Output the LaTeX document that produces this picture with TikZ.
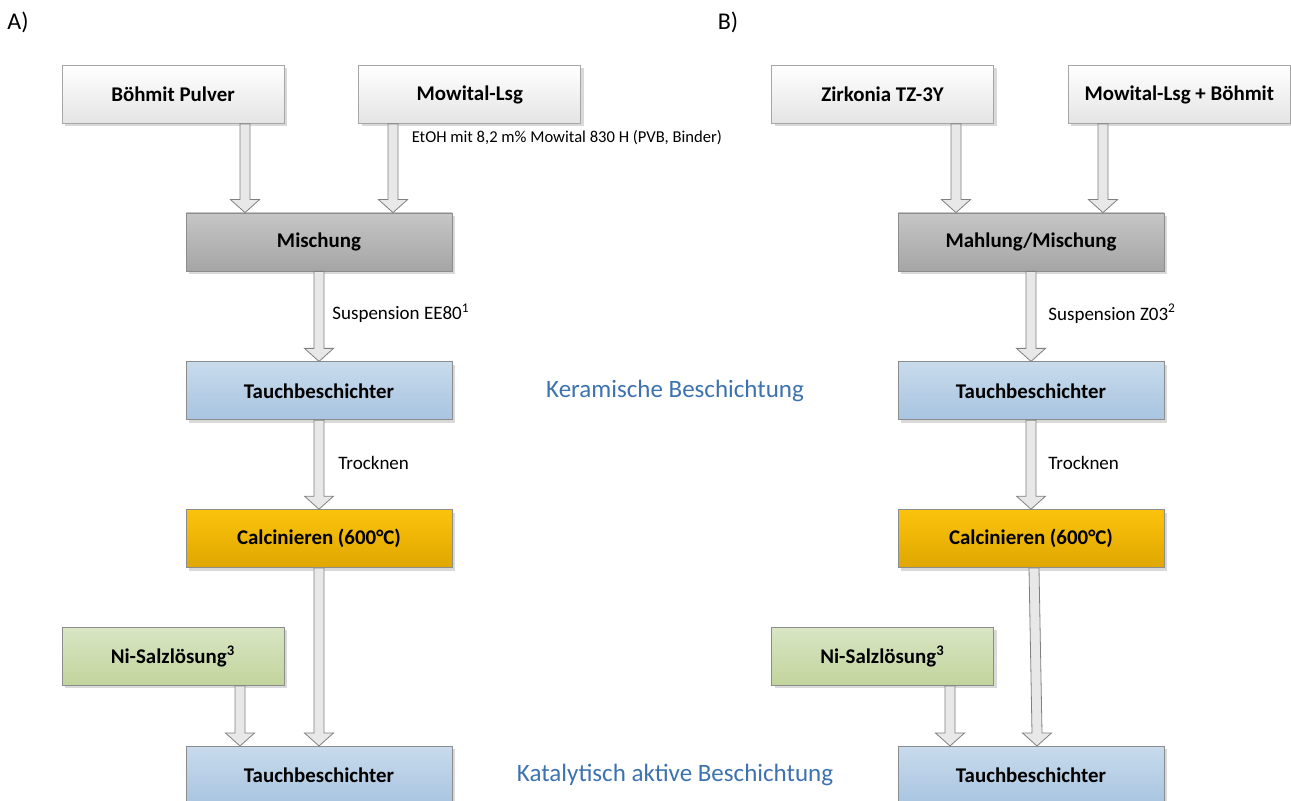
\documentclass[tikz,border=0pt]{standalone}
\usepackage{fontspec}
\setmainfont{Carlito}
\usetikzlibrary{positioning,calc,shadows}

\definecolor{feedtop}{HTML}{FFFFFF}
\definecolor{feedbot}{HTML}{E4E4E4}
\definecolor{mixtop}{HTML}{C6C6C6}
\definecolor{mixbot}{HTML}{A5A5A5}
\definecolor{diptop}{HTML}{C8DBEC}
\definecolor{dipbot}{HTML}{A8C4E0}
\definecolor{calctop}{HTML}{FCC30C}
\definecolor{calcbot}{HTML}{DFA700}
\definecolor{nitop}{HTML}{D9E5C4}
\definecolor{nibot}{HTML}{C2D49C}
\definecolor{secblue}{HTML}{3D72B0}

\begin{document}
\begin{tikzpicture}[x=0.5pt, y=-0.5pt,
    procbox/.style={rectangle, draw=black!45, line width=0.4pt, minimum height=29pt,
      font=\fontsize{10.45}{12}\selectfont\bfseries,
      drop shadow={shadow xshift=1.5pt, shadow yshift=-1.5pt, fill=black!15, opacity=1}},
    feed/.style={procbox, minimum width=111pt, top color=feedtop, bottom color=feedbot, draw=black!35},
    mixproc/.style={procbox, minimum width=133pt, top color=mixtop, bottom color=mixbot},
    dipproc/.style={procbox, minimum width=133pt, top color=diptop, bottom color=dipbot},
    calcproc/.style={procbox, minimum width=133pt, top color=calctop, bottom color=calcbot},
    niproc/.style={procbox, minimum width=111pt, top color=nitop, bottom color=nibot},
    steplabel/.style={font=\fontsize{9.5}{11}\selectfont, inner sep=0pt, anchor=west},
    notelabel/.style={font=\fontsize{8.3}{10}\selectfont, inner sep=0pt, anchor=west},
    section/.style={font=\fontsize{12.5}{14}\selectfont, text=secblue, inner sep=0pt},
    paneltag/.style={font=\fontsize{12}{14}\selectfont, inner sep=0pt},
    fatarrow/.style={draw=black!50, fill=black!9, line width=0.4pt,
      to path={let \p1=(\tikztostart), \p2=(\tikztotarget) in
        (\x1-2.5pt,\y1) -- (\x2-2.5pt,\y2+6.5pt) -- (\x2-7.25pt,\y2+6.5pt) -- (\x2,\y2)
        -- (\x2+7.25pt,\y2+6.5pt) -- (\x2+2.5pt,\y2+6.5pt) -- (\x1+2.5pt,\y1) -- cycle}}
    ]
    \useasboundingbox (0,0) rectangle (1291,801);

    % A) Aluminiumoxid
    \node[paneltag] (tagA) at (18,22) {A)};
    \node[feed] (boehmit) at (173,94.5) {Böhmit Pulver};
    \node[feed, right=37pt of boehmit] (mowital) {Mowital-Lsg};
    \node[mixproc] (mischung) at (319,242) {Mischung};
    \node[dipproc, below=45pt of mischung] (tauchA) {Tauchbeschichter};
    \node[calcproc, below=44.5pt of tauchA] (calcA) {Calcinieren (600°C)};
    \node[niproc] (niA) at (173,656.5) {Ni-Salzlösung\textsuperscript{3}};
    \node[dipproc, below=89pt of calcA] (tauchA2) {Tauchbeschichter};

    \node[notelabel] (etoh) at ($(mowital.south west)+(53,14)$) {EtOH mit 8,2 m\% Mowital 830 H (PVB, Binder)};
    \node[steplabel] (suspA) at ($(mischung.south)!0.5!(tauchA.north)+(13,-3)$) {Suspension EE80\textsuperscript{1}};
    \node[steplabel] (trockA) at ($(tauchA.south)!0.5!(calcA.north)+(19,-1.5)$) {Trocknen};

    \path[fatarrow] ([xshift=-37pt]mischung.north |- boehmit.south) to ([xshift=-37pt]mischung.north);
    \path[fatarrow] ([xshift=37pt]mischung.north |- mowital.south) to ([xshift=37pt]mischung.north);
    \path[fatarrow] (mischung.south) to (tauchA.north);
    \path[fatarrow] (tauchA.south) to (calcA.north);
    \path[fatarrow] (calcA.south) to (tauchA2.north);
    \path[fatarrow] ([xshift=-39.5pt]tauchA2.north |- niA.south) to ([xshift=-39.5pt]tauchA2.north);

    % B) Zirkonoxid
    \node[paneltag] (tagB) at (728,22) {B)};
    \node[feed] (zirkonia) at (882.5,94.5) {Zirkonia TZ-3Y};
    \node[feed, right=37pt of zirkonia] (mowitalB) {Mowital-Lsg + Böhmit};
    \node[mixproc] (mahlung) at (1031,242) {Mahlung/Mischung};
    \node[dipproc, below=45pt of mahlung] (tauchB) {Tauchbeschichter};
    \node[calcproc, below=44.5pt of tauchB] (calcB) {Calcinieren (600°C)};
    \node[niproc] (niB) at (882.5,656.5) {Ni-Salzlösung\textsuperscript{3}};
    \node[dipproc, below=89pt of calcB] (tauchB2) {Tauchbeschichter};

    \node[steplabel] (suspB) at ($(mahlung.south)!0.5!(tauchB.north)+(17,-3)$) {Suspension Z03\textsuperscript{2}};
    \node[steplabel] (trockB) at ($(tauchB.south)!0.5!(calcB.north)+(17,-1.5)$) {Trocknen};

    \path[fatarrow] ([xshift=-37.5pt]mahlung.north |- zirkonia.south) to ([xshift=-37.5pt]mahlung.north);
    \path[fatarrow] ([xshift=36pt]mahlung.north |- mowitalB.south) to ([xshift=36pt]mahlung.north);
    \path[fatarrow] (mahlung.south) to (tauchB.north);
    \path[fatarrow] (tauchB.south) to (calcB.north);
    \path[fatarrow] ([xshift=1.5pt]calcB.south) to ([xshift=3pt]tauchB2.north);
    \path[fatarrow] ([xshift=-40.5pt]tauchB2.north |- niB.south) to ([xshift=-40.5pt]tauchB2.north);

    % Beschriftung der Stufen
    \node[section] (keramik) at ($(tauchA)!0.5!(tauchB)$) {Keramische Beschichtung};
    \node[section] (katalyse) at ($(tauchA2)!0.5!(tauchB2)$) {Katalytisch aktive Beschichtung};
\end{tikzpicture}
\end{document}
